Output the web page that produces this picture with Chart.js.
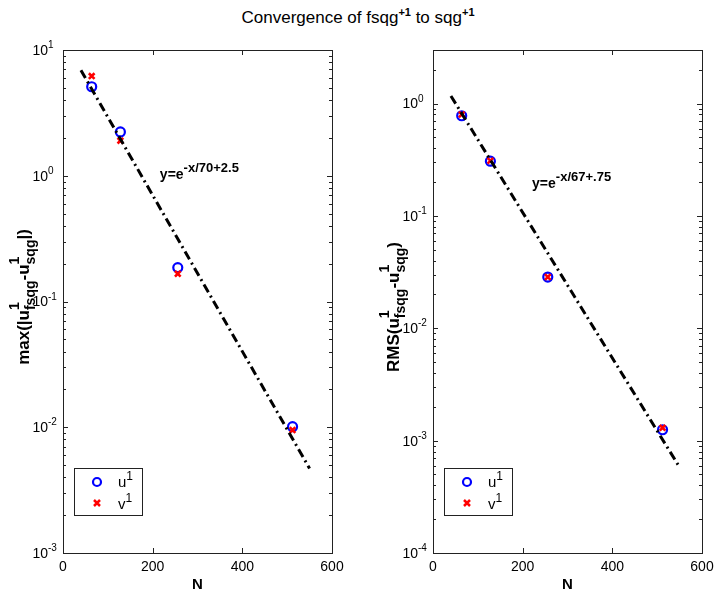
<!DOCTYPE html>
<html lang="en">
<head>
<meta charset="UTF-8" />
<title>Convergence of fsqg to sqg</title>
<script src="https://cdn.jsdelivr.net/npm/chart.js"></script>
<style>
  body { margin: 0; background: #fff; }
  #wrap { position: relative; width: 714px; height: 598px; }
  #wrap canvas { position: absolute; top: 0; }
  #title {
    position: absolute; top: 8px; left: 0; width: 716px; text-align: center;
    font: 17px "Liberation Sans", Arial, sans-serif; color: #000;
  }
  #title sup { font-size: 11px; font-weight: bold; vertical-align: 7px; line-height: 0; }
</style>
</head>
<body>
<div id="wrap">
  <div id="title">Convergence of fsqg<sup>+1</sup> to sqg<sup>+1</sup></div>
  <canvas id="maxChart" width="357" height="598" style="left:0"></canvas>
  <canvas id="rmsChart" width="357" height="598" style="left:357px"></canvas>
</div>
<script>
// grid sizes N
const N = [64, 128, 256, 512]
// max |error|
const maxU = [5.1, 2.23, 0.186, 0.0101]
const maxV = [6.2, 1.9, 0.166, 0.0095]
// RMS error
const rmsU = [0.78, 0.307, 0.0286, 0.00125]
const rmsV = [0.8, 0.31, 0.0286, 0.0013]
// fitted lines (end points)
const fitN = [40, 550]
const maxFit = [6.9, 0.0047]
const rmsFit = [1.17, 0.00058]
const xTicks = [0, 200, 400, 600]

const FONT = '"Liberation Sans", Arial, sans-serif'

function pts(xs, ys) {
  return xs.map((x, i) => ({ x: x, y: ys[i] }))
}

// piece = {t} for normal text or {sup, sub} for stacked scripts
function richWidth(ctx, parts, main, small) {
  let w = 0
  parts.forEach(p => {
    if (p.t) { ctx.font = main; w += ctx.measureText(p.t).width }
    else {
      ctx.font = small
      w += Math.max(ctx.measureText(p.sup || '').width, ctx.measureText(p.sub || '').width)
    }
  })
  return w
}

function drawRich(ctx, x, y, parts, main, small, supDy, subDy) {
  ctx.textAlign = 'left'
  ctx.textBaseline = 'alphabetic'
  parts.forEach(p => {
    if (p.t) {
      ctx.font = main
      ctx.fillText(p.t, x, y)
      x += ctx.measureText(p.t).width
    } else {
      ctx.font = small
      let w = 0
      if (p.sup) { ctx.fillText(p.sup, x, y + supDy); w = ctx.measureText(p.sup).width }
      if (p.sub) { ctx.fillText(p.sub, x, y + subDy); w = Math.max(w, ctx.measureText(p.sub).width) }
      x += w
    }
  })
}

const decorPlugin = {
  id: 'decor',
  afterDraw(chart, args, opts) {
    const ctx = chart.ctx
    const a = chart.chartArea
    const xs = chart.scales.x
    const ys = chart.scales.y
    ctx.save()
    ctx.fillStyle = '#000'
    ctx.strokeStyle = '#222'
    ctx.lineWidth = 1

    // box
    ctx.strokeRect(Math.round(a.left) + 0.5, Math.round(a.top) + 0.5,
      Math.round(a.right - a.left), Math.round(a.bottom - a.top))

    // x ticks, inward on top and bottom
    ctx.beginPath()
    xTicks.forEach(v => {
      const px = Math.round(xs.getPixelForValue(v)) + 0.5
      ctx.moveTo(px, a.bottom); ctx.lineTo(px, a.bottom - 5)
      ctx.moveTo(px, a.top); ctx.lineTo(px, a.top + 5)
    })
    // y ticks, log decades with minors
    const lo = Math.round(Math.log10(ys.min) - 0.5)
    const hi = Math.ceil(Math.log10(ys.max))
    for (let k = lo; k <= hi; k++) {
      for (let d = 1; d <= 9; d++) {
        const v = d * Math.pow(10, k)
        if (v < ys.min * 0.999 || v > ys.max * 1.001) continue
        const py = Math.round(ys.getPixelForValue(v)) + 0.5
        const len = d === 1 ? 5 : 3
        ctx.moveTo(a.left, py); ctx.lineTo(a.left + len, py)
        ctx.moveTo(a.right, py); ctx.lineTo(a.right - len, py)
      }
    }
    ctx.stroke()

    // x tick labels
    ctx.font = '14px ' + FONT
    ctx.textAlign = 'center'
    ctx.textBaseline = 'middle'
    xTicks.forEach(v => ctx.fillText(String(v), xs.getPixelForValue(v), a.bottom + 14))

    // y tick labels 10^k
    for (let k = lo; k <= hi; k++) {
      const v = Math.pow(10, k)
      if (v < ys.min * 0.999 || v > ys.max * 1.001) continue
      const py = ys.getPixelForValue(v)
      ctx.font = '14px ' + FONT
      ctx.textAlign = 'right'
      ctx.textBaseline = 'middle'
      ctx.fillText('10', a.left - 15, py + 1)
      ctx.font = '10px ' + FONT
      ctx.textAlign = 'left'
      ctx.textBaseline = 'alphabetic'
      ctx.fillText(String(k), a.left - 15, py - 2)
    }

    // x title
    ctx.font = 'bold 15px ' + FONT
    ctx.textAlign = 'center'
    ctx.textBaseline = 'middle'
    ctx.fillText('N', (a.left + a.right) / 2, a.bottom + 32)

    // y title (rotated)
    const main = 'bold 17px ' + FONT
    const small = 'bold 14px ' + FONT
    const w = richWidth(ctx, opts.yLabel, main, small)
    ctx.save()
    ctx.translate(opts.yLabelX, opts.yLabelY)
    ctx.rotate(-Math.PI / 2)
    drawRich(ctx, -w / 2, 0, opts.yLabel, main, small, -10, 6)
    ctx.restore()

    // fit annotation
    drawRich(ctx, xs.getPixelForValue(opts.note.x), ys.getPixelForValue(opts.note.y),
      opts.note.parts, 'bold 14px ' + FONT, 'bold 13px ' + FONT, -7, 5)

    // legend
    const lg = opts.legend
    ctx.fillStyle = '#fff'
    ctx.fillRect(a.left + 11, a.bottom - 85, 68, 47)
    ctx.strokeStyle = '#222'
    ctx.lineWidth = 1
    ctx.strokeRect(a.left + 11.5, a.bottom - 84.5, 68, 47)
    const mx = a.left + 34
    ctx.strokeStyle = '#0000ff'
    ctx.lineWidth = 2.2
    ctx.beginPath()
    ctx.arc(mx, a.bottom - 71, 4, 0, Math.PI * 2)
    ctx.stroke()
    ctx.strokeStyle = '#ff0000'
    ctx.lineWidth = 2.5
    ctx.beginPath()
    ctx.moveTo(mx - 3, a.bottom - 53); ctx.lineTo(mx + 3, a.bottom - 47)
    ctx.moveTo(mx + 3, a.bottom - 53); ctx.lineTo(mx - 3, a.bottom - 47)
    ctx.stroke()
    ctx.fillStyle = '#000'
    drawRich(ctx, a.left + 55, a.bottom - 66, [{ t: lg[0] }, { sup: '1' }], '15px ' + FONT, '12px ' + FONT, -7, 0)
    drawRich(ctx, a.left + 55, a.bottom - 44, [{ t: lg[1] }, { sup: '1' }], '15px ' + FONT, '12px ' + FONT, -7, 0)
    ctx.restore()
  }
}

function makeChart(id, u, v, fit, yMin, yMax, pad, decor) {
  return new Chart(document.getElementById(id).getContext('2d'), {
    type: 'scatter',
    data: {
      datasets: [
        {
          label: 'fit',
          type: 'line',
          data: pts(fitN, fit),
          borderColor: '#000',
          borderWidth: 3,
          borderDash: [9, 4, 2, 4],
          pointRadius: 0,
          fill: false,
          order: 0
        },
        {
          label: 'v1',
          data: pts(N, v),
          pointStyle: 'crossRot',
          pointRadius: 4,
          borderColor: '#ff0000',
          borderWidth: 2.6,
          order: 1
        },
        {
          label: 'u1',
          data: pts(N, u),
          pointStyle: 'circle',
          pointRadius: 4.5,
          backgroundColor: 'rgba(0,0,0,0)',
          borderColor: '#0000ff',
          borderWidth: 2.2,
          order: 2
        }
      ]
    },
    options: {
      responsive: false,
      animation: false,
      layout: { padding: pad },
      plugins: {
        legend: { display: false },
        tooltip: { enabled: false },
        decor: decor
      },
      scales: {
        x: { type: 'linear', min: 0, max: 600, display: false },
        y: { type: 'logarithmic', min: yMin, max: yMax, display: false }
      }
    },
    plugins: [decorPlugin]
  })
}

makeChart('maxChart', maxU, maxV, maxFit, 0.001, 10,
  { left: 63, right: 25, top: 50, bottom: 45 },
  {
    yLabel: [{ t: 'max(|u' }, { sup: '1', sub: 'fsqg' }, { t: '-u' }, { sup: '1', sub: 'sqg' }, { t: '|)' }],
    yLabelX: 29, yLabelY: 297,
    note: { x: 216, y: 0.94, parts: [{ t: 'y=e' }, { sup: '-x/70+2.5' }] },
    legend: ['u', 'v']
  })

makeChart('rmsChart', rmsU, rmsV, rmsFit, 0.0001, 3,
  { left: 76, right: 12, top: 50, bottom: 45 },
  {
    yLabel: [{ t: 'RMS(u' }, { sup: '1', sub: 'fsqg' }, { t: '-u' }, { sup: '1', sub: 'sqg' }, { t: ')' }],
    yLabelX: 42, yLabelY: 307,
    note: { x: 221, y: 0.179, parts: [{ t: 'y=e' }, { sup: '-x/67+.75' }] },
    legend: ['u', 'v']
  })
</script>
</body>
</html>
